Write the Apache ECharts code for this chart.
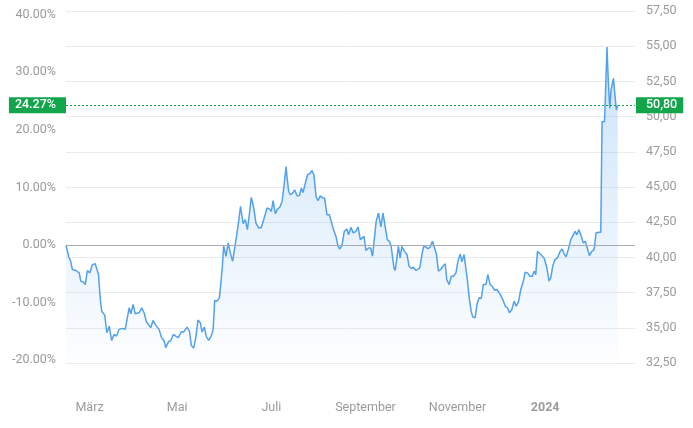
<!DOCTYPE html>
<html><head><meta charset="utf-8">
<script src="https://cdn.jsdelivr.net/npm/echarts@6/dist/echarts.min.js"></script>
<style>html,body{margin:0;padding:0;background:#fff}#c{width:693px;height:428px}</style>
</head><body><div id="c"></div>
<script>
// trading-day index (0 = first day shown) and closing price
const tradingDay = [0,1.2,2.1,3.0,4.6,6.2,6.9,8.0,9.0,10.0,11.1,12.4,13.6,14.4,15.2,16.1,16.7,18.1,19.1,20.2,21.3,22.5,23.6,24.8,26.4,27.7,28.7,29.5,30.3,31.4,32.3,34.2,35.4,36.5,37.6,38.5,39.6,40.7,41.9,43.5,44.7,45.9,46.6,47.9,48.9,50.2,51.3,52.5,53.9,55.0,56.6,57.7,58.6,59.7,60.8,61.7,62.8,63.6,64.7,65.6,66.7,68.0,68.8,69.5,70.6,71.7,73.0,73.7,74.8,75.8,76.8,77.9,78.8,79.6,80.7,81.6,82.8,83.8,84.8,85.7,86.6,87.7,88.8,90.1,91.3,92.4,94.0,95.2,96.0,96.8,97.9,98.9,100.0,101.0,101.7,102.9,103.3,104.1,104.9,105.9,106.9,108.0,109.1,110.0,110.8,111.9,112.9,114.2,115.0,115.9,116.9,117.8,118.9,119.9,120.9,122.0,123.1,124.0,125.1,126.2,127.1,127.9,129.0,130.1,131.3,132.1,133.2,134.3,135.5,136.5,137.6,138.3,139.3,140.2,141.4,142.4,143.3,144.2,145.0,146.1,147.2,148.2,149.2,150.2,151.2,152.0,152.6,153.3,153.9,154.7,155.4,156.2,157.0,158.2,159.4,160.4,161.4,162.4,163.6,164.5,165.4,166.4,167.3,168.2,169.2,170.2,171.3,172.3,173.2,174.1,175.2,176.2,177.3,178.0,179.1,180.1,181.1,182.3,183.2,184.3,185.1,186.1,186.9,187.7,188.5,189.4,190.2,191.3,192.1,193.1,194.1,195.1,196.3,197.2,198.3,199.3,200.3,201.4,202.5,203.4,204.5,205.3,206.4,207.3,208.4,209.5,210.4,211.5,212.6,213.8,214.6,215.7,216.9,218.0,218.8,219.6,220.4,221.3,222.4,223.5,224.8,225.8,226.6,227.6,228.6,229.7,231.0,231.9,232.8,233.8,234.8,236.0,236.9,238.0,238.8,239.8,240.8,241.8,242.8,243.7,244.7,245.8,246.9,247.8,248.9,250.0,250.6,251.7,252.0,252.9,253.5,254.2,254.8,255.9,256.7,257.3,257.9];
const price = [40.88,40.08,39.77,39.14,39.07,38.90,38.31,38.26,38.07,39.07,38.90,39.49,39.56,39.49,38.78,36.89,36.18,35.90,34.65,35.12,34.11,34.53,34.41,34.89,34.96,34.89,35.72,36.42,36.00,36.66,36.00,36.07,36.42,36.07,35.43,35.52,35.01,35.52,35.19,34.89,34.30,34.06,33.59,34.02,34.06,34.53,34.41,34.30,34.72,34.70,35.05,34.77,33.75,33.56,34.41,35.55,35.36,34.70,35.05,34.37,34.11,34.46,34.89,36.94,36.89,37.13,39.14,40.84,40.08,41.03,40.32,39.72,39.72,41.38,42.56,43.62,42.39,42.68,41.97,43.03,44.26,43.58,42.44,42.09,42.13,42.68,43.51,43.43,43.26,44.04,43.10,43.43,43.58,43.97,44.80,46.45,45.74,44.68,44.45,44.57,44.80,44.38,44.40,44.92,44.61,45.28,45.86,45.98,46.17,45.86,44.33,44.02,44.38,44.21,44.21,43.03,43.03,43.03,41.97,41.49,40.84,40.60,40.84,41.85,42.02,41.61,42.13,41.74,41.85,42.16,41.26,41.14,41.49,40.50,40.67,40.67,40.08,40.08,42.56,43.15,42.16,43.15,42.20,41.26,41.14,40.79,40.08,39.26,39.07,39.96,40.79,39.96,40.79,40.43,40.20,39.37,39.21,39.30,39.07,38.94,39.26,40.20,40.84,40.86,40.62,40.72,41.14,40.67,40.20,39.02,39.14,39.37,39.54,38.43,38.07,38.66,38.66,38.90,39.72,40.25,39.68,40.20,39.26,38.31,37.13,36.18,35.76,35.72,36.66,37.13,37.08,38.07,38.07,38.78,38.07,37.95,37.67,37.72,37.49,37.25,36.89,36.54,36.42,36.07,36.30,36.89,36.54,36.82,37.72,38.31,38.94,38.90,38.66,38.66,39.02,38.78,40.43,40.55,40.13,39.96,39.26,38.31,38.55,39.42,39.84,39.96,40.43,40.60,40.27,40.04,40.55,41.26,41.21,41.85,41.61,41.97,41.54,41.03,41.14,40.67,40.13,40.43,40.55,41.74,41.78,41.78,49.64,49.64,50.70,54.95,52.59,50.59,51.88,52.71,51.41,50.47,50.80];

const basePrice = 40.88;
const lastPrice = 50.80;
const priceMin = 32.5, priceMax = 57.5, priceStep = 2.5;
const pctTicks = [-20, -10, 0, 10, 20, 30, 40];
const monthTickDays = [11, 52, 96, 140, 183, 224];
const monthLabels = ['März', 'Mai', 'Juli', 'September', 'November', '2024'];
const dayMax = 266;

const chart = echarts.init(document.getElementById('c'));
const pctMin = (priceMin / basePrice - 1) * 100;
const pctMax = (priceMax / basePrice - 1) * 100;
const font = 'Roboto, sans-serif';
const labelColor = '#9b9b9b';
const green = '#12a54b';
const lastPct = ((lastPrice / basePrice - 1) * 100).toFixed(2) + '%';
const fmtPrice = v => v.toFixed(2).replace('.', ',');

chart.setOption({
  animation: false,
  grid: { left: 66, right: 58, top: 11, bottom: 65 },
  xAxis: {
    type: 'value', min: 0, max: dayMax,
    axisLine: { show: false }, axisTick: { show: false }, splitLine: { show: false },
    axisLabel: {
      customValues: monthTickDays, margin: 38, color: labelColor, fontSize: 12.5, fontFamily: font,
      formatter: v => {
        const t = monthLabels[monthTickDays.indexOf(v)] || '';
        return /^\d{4}$/.test(t) ? '{b|' + t + '}' : t;
      },
      rich: { b: { fontWeight: 'bold', color: labelColor, fontSize: 12.5, fontFamily: font } }
    }
  },
  yAxis: [
    {
      type: 'value', position: 'left', min: pctMin, max: pctMax,
      axisLine: { show: false }, axisTick: { show: false }, splitLine: { show: false },
      axisLabel: {
        customValues: pctTicks, margin: 10, color: labelColor, fontSize: 12.5, fontFamily: font,
        formatter: v => v.toFixed(2) + '%'
      }
    },
    {
      type: 'value', position: 'right', min: priceMin, max: priceMax, interval: priceStep,
      axisLine: { show: false }, axisTick: { show: false },
      splitLine: { lineStyle: { color: '#ebebeb', width: 1 } },
      axisLabel: { margin: 11, color: labelColor, fontSize: 12.5, fontFamily: font, formatter: fmtPrice }
    }
  ],
  series: [{
    type: 'line', yAxisIndex: 1,
    data: tradingDay.map((d, i) => [d, price[i]]),
    showSymbol: false, symbol: 'none',
    lineStyle: { color: '#52a1ec', width: 1.5 },
    areaStyle: {
      origin: 'start',
      color: new echarts.graphic.LinearGradient(0, 0, 0, 1, [
        { offset: 0, color: 'rgba(79,159,234,0.42)' },
        { offset: 1, color: 'rgba(79,159,234,0.02)' }
      ])
    },
    markLine: {
      silent: true, symbol: 'none', animation: false,
      data: [
        { yAxis: basePrice, lineStyle: { color: '#a9a9b1', type: 'solid', width: 1 }, label: { show: false } },
        {
          yAxis: lastPrice, lineStyle: { color: green, type: [2, 2], width: 1 },
          label: {
            show: true, position: 'start', distance: 0, formatter: lastPct,
            backgroundColor: green, color: '#fff', fontSize: 12.5, fontWeight: 500, fontFamily: font,
            padding: [2, 10, 2, 6], lineHeight: 12
          }
        },
        {
          yAxis: lastPrice, lineStyle: { color: green, type: [2, 2], width: 1 },
          label: {
            show: true, position: 'end', distance: 1, formatter: fmtPrice(lastPrice),
            backgroundColor: green, color: '#fff', fontSize: 12.5, fontWeight: 500, fontFamily: font,
            padding: [2, 6, 2, 10], lineHeight: 12
          }
        }
      ]
    }
  }]
});
</script></body></html>
